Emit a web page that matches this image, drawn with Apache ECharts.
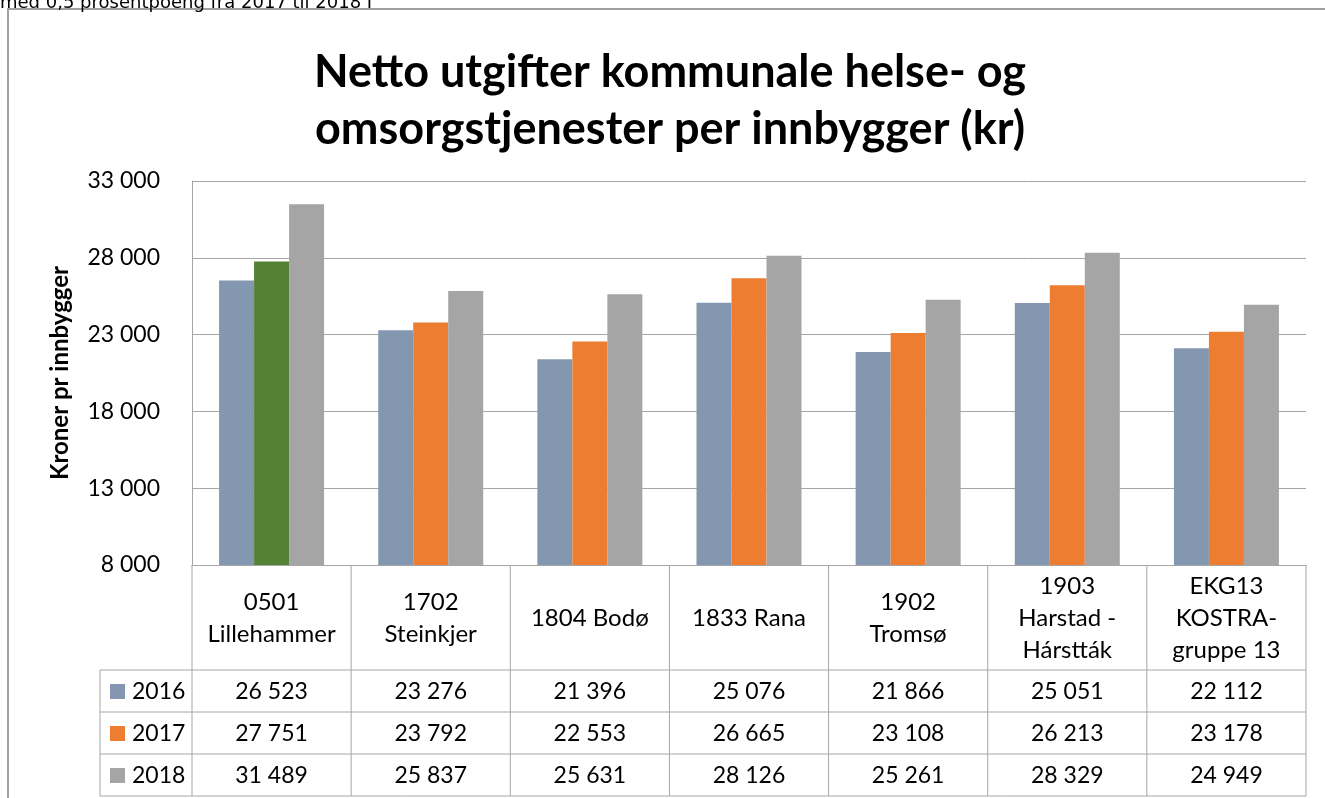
<!DOCTYPE html>
<html><head><meta charset="utf-8">
<script src="https://cdn.jsdelivr.net/npm/echarts@6/dist/echarts.min.js"></script>
<style>html,body{margin:0;padding:0;background:#fff;overflow:hidden}#c{width:1325px;height:798px}</style>
</head><body><div id="c"></div>
<script>
const categories = ['0501\nLillehammer', '1702\nSteinkjer', '1804 Bodø', '1833 Rana', '1902\nTromsø', '1903\nHarstad -\nHárstták', 'EKG13\nKOSTRA-\ngruppe 13'];
const years = ['2016', '2017', '2018'];
const v2016 = [26523, 23276, 21396, 25076, 21866, 25051, 22112];
const v2017 = [27751, 23792, 22553, 26665, 23108, 26213, 23178];
const v2018 = [31489, 25837, 25631, 28126, 25261, 28329, 24949];
const yTickLabels = ['8 000', '13 000', '18 000', '23 000', '28 000', '33 000'];
const titleText = 'Netto utgifter kommunale helse- og\nomsorgstjenester per innbygger (kr)';
const yAxisName = 'Kroner pr innbygger';
const topNote = 'med 0,5 prosentpoeng fra 2017 til 2018 I';

const colors = ['#8497B0', '#ED7D31', '#A5A5A5'];
const highlightColor = '#548235';
const lineColor = '#A6A6A6';
const fontFam = 'Lato, "Liberation Sans", sans-serif';
const fmt = v => String(v).replace(/\B(?=(\d{3})+(?!\d))/g, ' ');

const seriesValues = [v2016, v2017, v2018];
const chart = echarts.init(document.getElementById('c'), null, {renderer: 'canvas'});

const option = {
  animation: false,
  backgroundColor: '#fff',
  grid: {left: 192, right: 19, top: 181, bottom: 233, containLabel: false},
  xAxis: {
    type: 'category', data: categories,
    axisLine: {show: true, lineStyle: {color: lineColor}},
    axisTick: {show: false}, axisLabel: {show: false}
  },
  yAxis: {
    type: 'value', min: 8000, max: 33000, interval: 5000,
    name: yAxisName, nameLocation: 'middle', nameGap: 120,
    nameTextStyle: {fontFamily: fontFam, fontWeight: 'bold', fontSize: 24, color: '#000'},
    axisLine: {show: true, lineStyle: {color: lineColor}},
    axisTick: {show: false},
    axisLabel: {margin: 32, fontFamily: fontFam, fontSize: 23, color: '#000',
      formatter: (v) => yTickLabels[Math.round((v - 8000) / 5000)] || fmt(v)},
    splitLine: {show: true, lineStyle: {color: lineColor}}
  },
  series: years.map((y, i) => ({
    name: y, type: 'bar', barWidth: 35, barGap: '0%',
    itemStyle: {color: colors[i]},
    data: seriesValues[i].map((v, j) => (i === 1 && j === 0) ? {value: v, itemStyle: {color: highlightColor}} : v)
  }))
};
chart.setOption(option);

function buildGraphics() {
  const els = [];
  const c0 = chart.convertToPixel({xAxisIndex: 0}, 0);
  const c1 = chart.convertToPixel({xAxisIndex: 0}, 1);
  const band = c1 - c0;
  const yTop = chart.convertToPixel({yAxisIndex: 0}, 8000);
  const left = c0 - band / 2;
  const right = left + band * categories.length;
  const catH = 105, rowH = 42;
  const tableLeft = 100;
  const rowTop = yTop + catH;
  const bottom = rowTop + rowH * 3;
  const ln = (x1, y1, x2, y2) => els.push({type: 'line', silent: true, shape: {x1, y1, x2, y2}, style: {stroke: lineColor, lineWidth: 1}});
  els.push({type: 'rect', silent: true, shape: {x: 8, y: 9, width: 1400, height: 900}, style: {fill: null, stroke: '#A0A0A0', lineWidth: 2}});
  els.push({type: 'text', silent: true, style: {x: 0, y: 12, text: topNote, font: '18px "DejaVu Sans"', fill: '#000', textVerticalAlign: 'bottom', verticalAlign: 'bottom'}});
  els.push({type: 'text', silent: true, style: {x: 670, y: 101, text: titleText, font: 'bold 45px ' + fontFam, lineHeight: 57, fill: '#000', textAlign: 'center', align: 'center', textVerticalAlign: 'middle', verticalAlign: 'middle'}});
  for (let k = 0; k <= categories.length; k++) {
    const x = left + band * k;
    ln(x, yTop, x, bottom);
  }
  ln(tableLeft, rowTop, tableLeft, bottom);
  for (let r = 0; r <= 3; r++) ln(tableLeft, rowTop + rowH * r, right, rowTop + rowH * r);
  categories.forEach((cat, j) => {
    els.push({type: 'text', silent: true, style: {x: left + band * (j + 0.5), y: yTop + catH / 2 + 1, text: cat, font: '24px ' + fontFam, lineHeight: 32, fill: '#000', textAlign: 'center', align: 'center', textVerticalAlign: 'middle', verticalAlign: 'middle'}});
  });
  years.forEach((yr, i) => {
    const cy = rowTop + rowH * (i + 0.5);
    els.push({type: 'rect', silent: true, shape: {x: 110, y: cy - 7, width: 15, height: 15}, style: {fill: colors[i]}});
    els.push({type: 'text', silent: true, style: {x: 132, y: cy + 1, text: yr, font: '23px ' + fontFam, fill: '#000', textVerticalAlign: 'middle', verticalAlign: 'middle'}});
    seriesValues[i].forEach((v, j) => {
      els.push({type: 'text', silent: true, style: {x: left + band * (j + 0.5), y: cy + 1, text: fmt(v), font: '23px ' + fontFam, fill: '#000', textAlign: 'center', align: 'center', textVerticalAlign: 'middle', verticalAlign: 'middle'}});
    });
  });
  chart.setOption({graphic: els});
}
buildGraphics();
</script>
</body></html>
